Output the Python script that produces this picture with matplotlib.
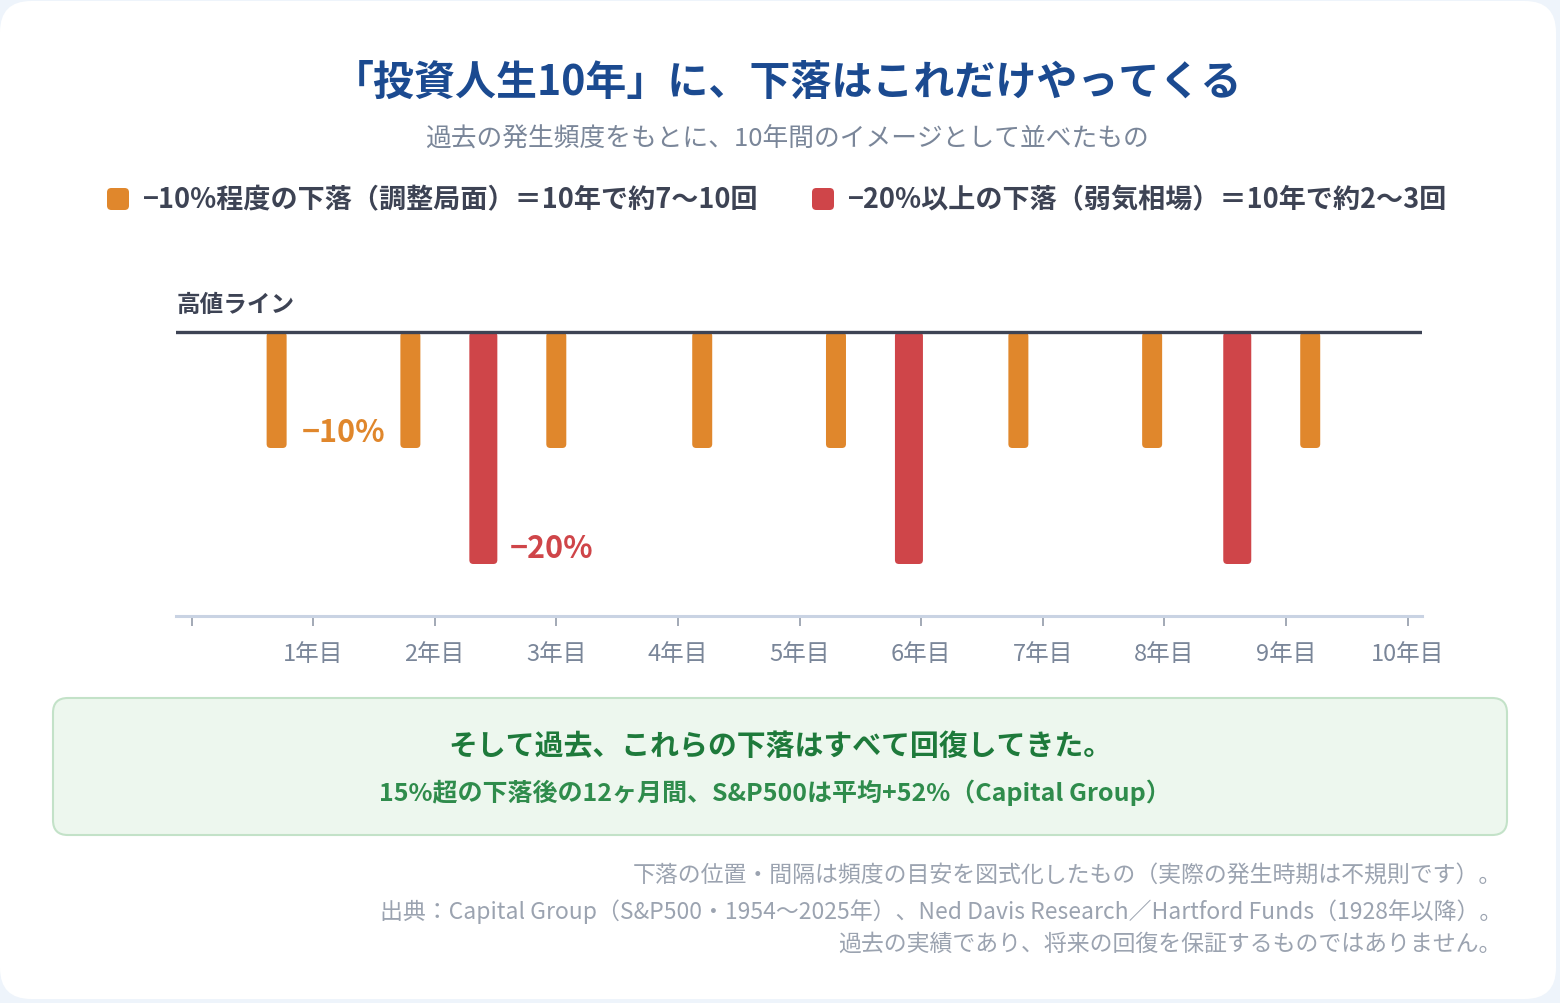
import matplotlib.pyplot as plt
from matplotlib.patches import FancyBboxPatch

plt.rcParams['font.family'] = ['Noto Sans CJK JP', 'DejaVu Sans']

W, H = 1560, 1004

# data (years into the 10-year span, depth of drawdown in %)
minor_years = [0.7, 1.8, 3.0, 4.2, 5.3, 6.8, 7.9, 9.2]
minor_depth = [10, 10, 10, 10, 10, 10, 10, 10]
major_years = [2.4, 5.9, 8.6]
major_depth = [20, 20, 20]
tick_years = list(range(0, 11))
tick_labels = [''] + [f'{i}年目' for i in range(1, 11)]

ORANGE = '#e0872c'
RED = '#cf4549'
DARK = '#3d4354'
GRAY = '#7a8699'
LIGHT_GRAY = '#9ba3b0'
BLUE = '#1b4a90'

fig = plt.figure(figsize=(W / 100, H / 100), dpi=100)
fig.patch.set_facecolor('#eef4fb')


def fx(px):
    return px / W


def fy(py):
    return 1 - py / H


# white card
card = FancyBboxPatch((fx(0), fy(1000)), fx(1556), 998 / H,
                      boxstyle='round,pad=0,rounding_size=0.02',
                      mutation_aspect=W / H, transform=fig.transFigure,
                      facecolor='white', edgecolor='none', zorder=-10)
fig.patches.append(card)

# title and subtitle
fig.text(0.5047, fy(83), '「投資人生10年」に、下落はこれだけやってくる', ha='center', va='center',
         fontsize=29.5, fontweight='bold', color=BLUE)
fig.text(0.5047, fy(139), '過去の発生頻度をもとに、10年間のイメージとして並べたもの', ha='center', va='center',
         fontsize=18.5, color=GRAY)

# legend
for x0, col, txt in [(107, ORANGE, '−10%程度の下落（調整局面）＝10年で約7〜10回'),
                     (812, RED, '−20%以上の下落（弱気相場）＝10年で約2〜3回')]:
    sq = FancyBboxPatch((fx(x0), fy(211)), fx(22), 22 / H,
                        boxstyle='round,pad=0,rounding_size=0.0028',
                        mutation_aspect=W / H, transform=fig.transFigure,
                        facecolor=col, edgecolor='none', zorder=-5)
    fig.patches.append(sq)
    fig.text(fx(x0 + 36), fy(200), txt, ha='left', va='center',
             fontsize=19.5, fontweight='bold', color=DARK)

# chart
ax = fig.add_axes([fx(176), fy(617), fx(1422 - 176), (617 - 300) / H])
px_per_year = 121.6
px_per_pct = 11.6
ax.set_xlim((176 - 191.5) / px_per_year, (1422 - 191.5) / px_per_year)
ax.set_ylim(-(617 - 333) / px_per_pct, (333 - 300) / px_per_pct)

r = 4 / px_per_year
asp = px_per_year / px_per_pct
for years, depths, width, col in [(minor_years, minor_depth, 20 / px_per_year, ORANGE),
                                  (major_years, major_depth, 28 / px_per_year, RED)]:
    for x, d in zip(years, depths):
        p = FancyBboxPatch((x - width / 2, -d), width, d,
                           boxstyle=f'round,pad=0,rounding_size={r}',
                           mutation_aspect=asp, facecolor=col, edgecolor='none', zorder=3)
        ax.add_patch(p)

ax.axhline(0, color=DARK, lw=2.4, zorder=5)
ax.text(minor_years[0] + 0.21, -minor_depth[0] + 1.4, '−10%', ha='left', va='center',
        fontsize=22, fontweight='bold', color=ORANGE)
ax.text(major_years[0] + 0.22, -major_depth[0] + 1.4, '−20%', ha='left', va='center',
        fontsize=22, fontweight='bold', color=RED)

for s in ['top', 'left', 'right']:
    ax.spines[s].set_visible(False)
ax.spines['bottom'].set_color('#c9d3e3')
ax.spines['bottom'].set_linewidth(2.2)
ax.set_yticks([])
ax.set_xticks(tick_years)
ax.set_xticklabels(tick_labels, fontsize=17, color=GRAY)
ax.tick_params(axis='x', length=7.5, width=1.3, color=LIGHT_GRAY, pad=11)
ax.patch.set_alpha(0)

fig.text(fx(177), fy(305), '高値ライン', ha='left', va='center',
         fontsize=17, fontweight='bold', color=DARK)

# recovery box
box = FancyBboxPatch((fx(53), fy(836)), fx(1454), 137 / H,
                     boxstyle='round,pad=0,rounding_size=0.0095',
                     mutation_aspect=W / H, transform=fig.transFigure,
                     facecolor='#edf7ee', edgecolor='#c3e2c8', linewidth=1.5, zorder=-5)
fig.patches.append(box)
fig.text(fx(780), fy(746), 'そして過去、これらの下落はすべて回復してきた。', ha='center', va='center',
         fontsize=20.8, fontweight='bold', color='#1e7a3b')
fig.text(fx(775), fy(793), '15%超の下落後の12ヶ月間、S&P500は平均+52%（Capital Group）',
         ha='center', va='center', fontsize=18, fontweight='bold', color='#2f8c4c')

# footnotes
notes = ['下落の位置・間隔は頻度の目安を図式化したもの（実際の発生時期は不規則です）。',
         '出典：Capital Group（S&P500・1954〜2025年）、Ned Davis Research／Hartford Funds（1928年以降）。',
         '過去の実績であり、将来の回復を保証するものではありません。']
for yy, t in zip([876, 912, 944], notes):
    fig.text(fx(1502), fy(yy), t, ha='right', va='center', fontsize=16.5, color=LIGHT_GRAY)

fig.savefig('out.png', dpi=100, facecolor=fig.get_facecolor())
